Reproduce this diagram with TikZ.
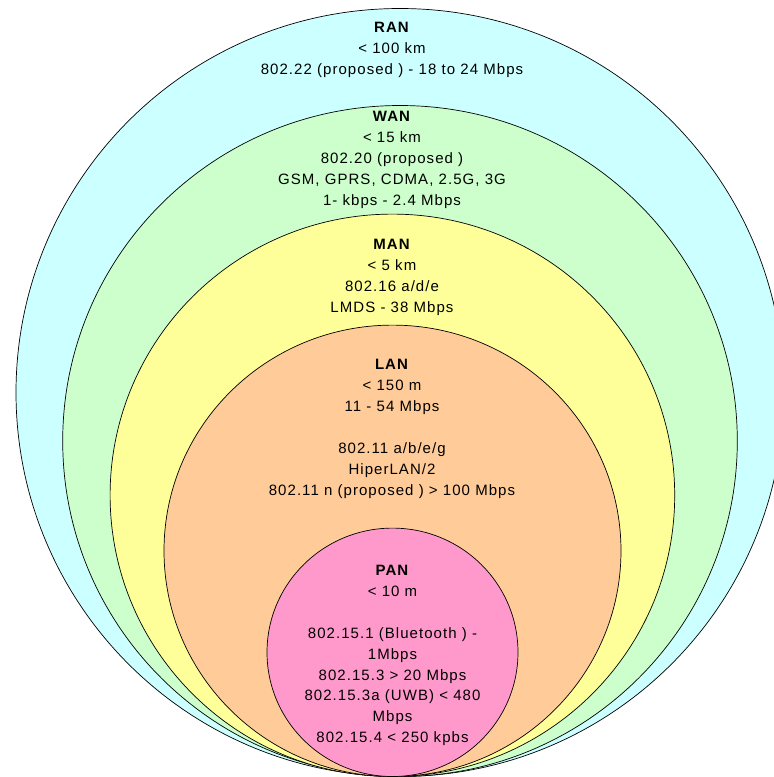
\documentclass[tikz,border=0pt]{standalone}
\usepackage{fontspec}
\setmainfont[LetterSpace=7]{Liberation Sans}
\definecolor{rancol}{HTML}{CCFFFF}
\definecolor{wancol}{HTML}{CCFFCC}
\definecolor{mancol}{HTML}{FFFF99}
\definecolor{lancol}{HTML}{FFCC99}
\definecolor{pancol}{HTML}{FF99CC}
\begin{document}
\begin{tikzpicture}[x=1pt,y=-1pt,
  zone/.style={draw=black,line width=0.7pt},
  lbl/.style={align=center,anchor=base,inner sep=0pt,font=\fontsize{15}{20.9}\selectfont}]
\useasboundingbox (0,0) rectangle (774,777);
\clip (0,0) rectangle (774,777);
\fill[white] (0,0) rectangle (774,777);
\path[zone,fill=rancol] (400,392.5) ellipse [x radius=384,y radius=384];
\path[zone,fill=wancol] (400,441) ellipse [x radius=337.3,y radius=335.5];
\path[zone,fill=mancol] (392.4,495.3) ellipse [x radius=282.3,y radius=281.2];
\path[zone,fill=lancol] (392.5,550.8) ellipse [x radius=228.5,y radius=225.7];
\path[zone,fill=pancol] (392.5,652.3) ellipse [x radius=125.5,y radius=124.2];
% anchor=base puts the last line's baseline at the given point
\node[lbl] (ran) at (392,74.5) {\textbf{RAN}\\< 100 km\\802.22 (proposed ) - 18 to 24 Mbps};
\node[lbl] (wan) at (392,205) {\textbf{WAN}\\< 15 km\\802.20 (proposed )\\GSM, GPRS, CDMA, 2.5G, 3G\\1- kbps - 2.4 Mbps};
\node[lbl] (man) at (392,312.3) {\textbf{MAN}\\< 5 km\\802.16 a/d/e\\LMDS - 38 Mbps};
\node[lbl] (lan) at (392,495) {\textbf{LAN}\\< 150 m\\11 - 54 Mbps\\[20.9pt]802.11 a/b/e/g\\HiperLAN/2\\802.11 n (proposed ) > 100 Mbps};
\node[lbl] (pan) at (392.5,742.7) {\textbf{PAN}\\< 10 m\\[20.9pt]802.15.1 (Bluetooth ) -\\1Mbps\\802.15.3 > 20 Mbps\\802.15.3a (UWB) < 480\\Mbps\\802.15.4 < 250 kpbs};
\end{tikzpicture}
\end{document}
